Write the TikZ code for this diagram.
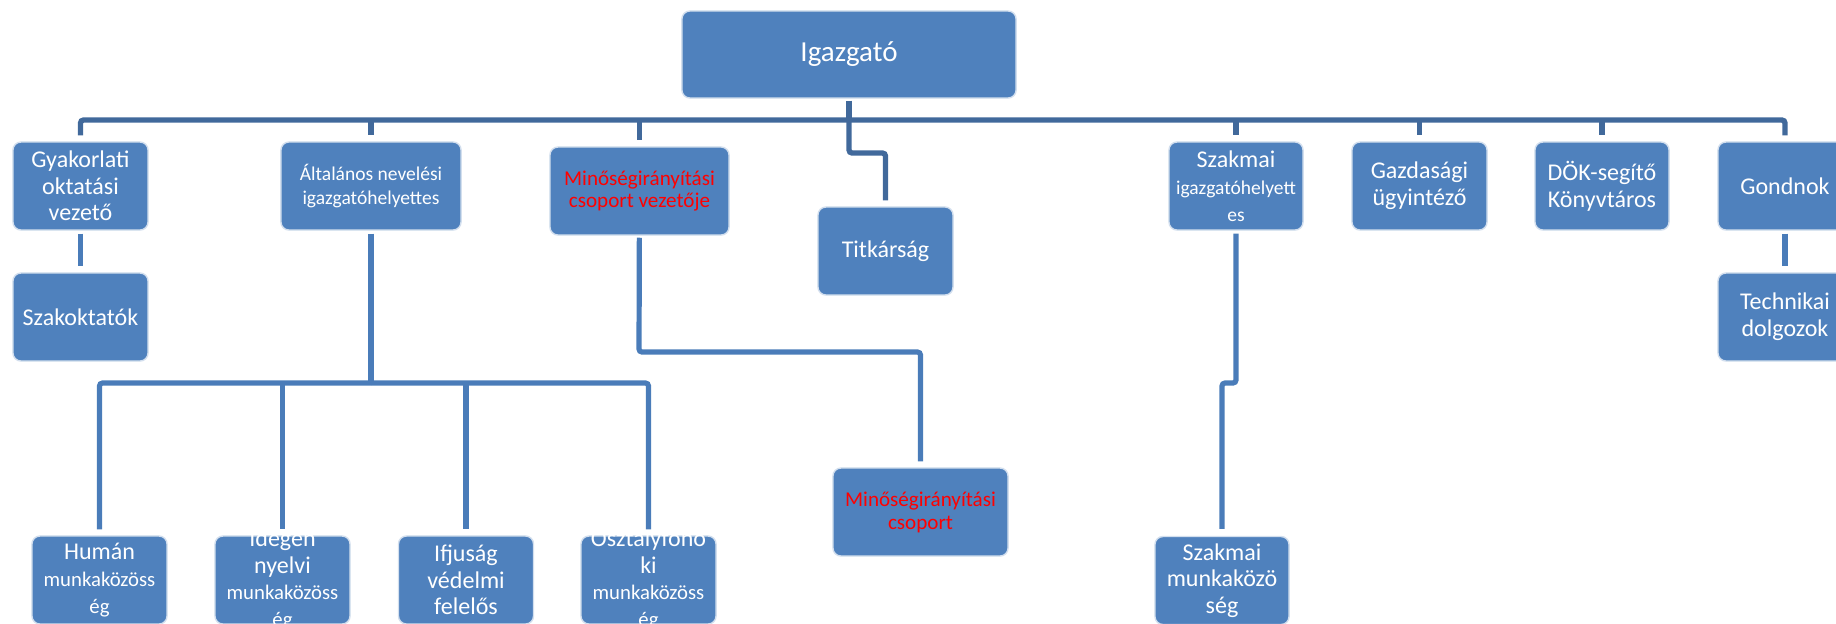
\documentclass[tikz,border=0pt]{standalone}
\usepackage{fontspec}
\setmainfont{Carlito}
\definecolor{boxblue}{HTML}{4F81BD}
\definecolor{busblue}{HTML}{41699B}
\definecolor{linkblue}{HTML}{4A7CB9}
\definecolor{redtext}{HTML}{FF0000}
\newcommand{\fbig}{\fontsize{8.25}{9.4}\selectfont}
\newcommand{\fmain}{\fontsize{6.83}{7.6}\selectfont}
\newcommand{\fred}{\fontsize{6.0}{6.5}\selectfont}
\newcommand{\fsmall}{\fontsize{5.55}{6.6}\selectfont}
\newcommand{\fmk}{\fontsize{5.9}{6.6}\selectfont}

\begin{document}
\begin{tikzpicture}[x=0.01cm,y=-0.01cm,
  box/.style={draw=white!75!boxblue,line width=0.4pt,fill=boxblue,rounded corners=0.08cm,
    minimum width=1.35cm,minimum height=0.88cm,inner sep=0pt,align=center,text=white,font=\fmain},
  redbox/.style={box,text=redtext,font=\fred},
  boxtext/.style={inner sep=0pt,align=center,text=white,font=\fmain},
  bus/.style={draw=busblue,line width=0.053cm,rounded corners=0.03cm},
  link/.style={draw=linkblue,line width=0.052cm,rounded corners=0.03cm}]
\clip (0,0) rectangle (1836,623);

% top level
\node[box,minimum width=3.34cm,minimum height=0.87cm,font=\fbig] (igaz) at (849,54.5) {Igazgató};
\coordinate (bus) at (849,120);

% second row
\node[box] (gyak) at (80.5,186) {Gyakorlati\\oktatási\\vezető};
\node[box,minimum width=1.80cm,font=\fsmall] (alt) at (371,186) {Általános nevelési\\igazgatóhelyettes};
\node[redbox,minimum width=1.79cm] (minv) at (639.5,191) {Minőségirányítási\\csoport vezetője};
\node[box] (titk) at (885.5,251) {Titkárság};
\node[box,minimum width=1.34cm] (szig) at (1236,186) {Szakmai\\\fsmall igazgatóhelyett\\\fsmall es};
\node[box] (gazd) at (1419.5,186) {Gazdasági\\ügyintéző};
\node[box,minimum width=1.34cm] (dok) at (1602,186) {DÖK-segítő\\Könyvtáros};
\node[box,minimum width=1.34cm] (gond) at (1785,186) {Gondnok};

% third row
\node[box] (szako) at (80.5,317) {Szakoktatók};
\node[box,minimum width=1.34cm] (tech) at (1785,317) {Technikai\\dolgozok};
\node[redbox,minimum width=1.75cm] (mcs) at (920.5,512) {Minőségirányítási\\csoport};

% bottom row (texts of four lines run over the box)
\node[box] (human) at (99.5,580) {Humán\\\fmk munkaközöss\\\fmk ég};
\node[box] (ideg) at (282.5,580) {};
\node[boxtext] at (ideg.center) {Idegen\\nyelvi\\\fmk munkaközöss\\\fmk ég};
\node[box] (ifju) at (466,580) {Ifjuság\\védelmi\\felelős};
\node[box] (oszt) at (648.5,580) {};
\node[boxtext] at (oszt.center) {Osztályfőnö\\ki\\\fmk munkaközöss\\\fmk ég};
\node[box,minimum width=1.34cm] (szmk) at (1222,580.5) {Szakmai\\munkaközö\\ség};

% connectors from Igazgató
\draw[bus,shorten <=0.02cm] (igaz) -- (bus);
\draw[bus,shorten <=0.06cm,shorten >=0.06cm] (gyak.north) |- (bus) -| (gond.north);
\foreach \n in {alt,minv,szig,gazd,dok}
  \draw[bus,shorten >=0.06cm] (\n.north |- bus) -- (\n.north);
\draw[bus,shorten >=0.06cm] (bus) -- ++(0,33) -| (titk.north);

% lower connectors
\coordinate (albus) at (371,383);
\coordinate (mbend) at (639,352);
\coordinate (sjog) at (1229,383);
\draw[link,shorten <=0.03cm,shorten >=0.06cm] (gyak) -- (szako);
\draw[link,shorten <=0.03cm,shorten >=0.06cm] (gond) -- (tech);
\draw[link,shorten <=0.03cm] (alt) -- (albus);
\draw[link,shorten >=0.06cm] (albus) -| (human.north);
\draw[link,shorten >=0.06cm] (albus) -| (oszt.north);
\foreach \n in {ideg,ifju}
  \draw[link,shorten >=0.06cm] (\n.north |- albus) -- (\n.north);
\draw[link,shorten <=0.02cm,shorten >=0.06cm] (minv) -- (mbend) -| (mcs.north);
\draw[link,shorten <=0.03cm,shorten >=0.07cm] (szig.south) |- (sjog) -| (szmk.north);
\end{tikzpicture}
\end{document}
